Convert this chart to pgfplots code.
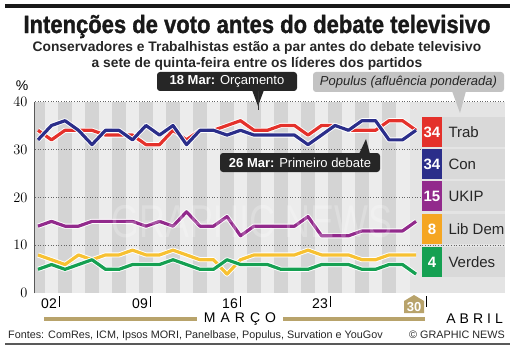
\documentclass[border=0pt]{standalone}
\usepackage{fontspec}
\setmainfont{Liberation Sans}
\newfontfamily\titlefont[FakeStretch=0.88,FakeBold=1.2]{Liberation Sans Bold}
\usepackage{graphicx}
\usepackage{pgfplots}
\usepackage{pgfplotstable}
\pgfplotsset{compat=1.18}
\definecolor{trab}{HTML}{E4312B}
\definecolor{con}{HTML}{2B2E8A}
\definecolor{ukip}{HTML}{922A8C}
\definecolor{ld}{HTML}{F7C132}
\definecolor{ldbox}{HTML}{F5A623}
\definecolor{verd}{HTML}{15A052}
\definecolor{tanc}{HTML}{B8A36B}
\definecolor{stripeA}{HTML}{D4D4D4}
\definecolor{stripeB}{HTML}{ECECEC}
\definecolor{bgR}{HTML}{E4E4E4}
\definecolor{cell}{HTML}{D9D9D9}
\definecolor{boxdark}{HTML}{262626}

\pgfplotstableread{
d trab con ukip ld verd
0 34 32 14 8 5
1 32 35 15 7 6
2 34 36 14 6 5
3 34 34 14 8 6
4 34 31 15 7 7
5 33 34 15 8 5
6 33 34 15 8 5
7 33 32 15 9 6
8 31 35 14 8 6
9 31 33 15 8 6
10 34 35 14 9 7
11 32 31 17 8 6
12 34 34 14 7 5
13 34 34 14 7 5
14 35 33 16 4 7
15 36 34 12 7 6
16 34 33 14 8 6
17 34 33 14 8 6
18 35 33 14 8 5
19 35 33 14 8 5
20 33 31 16 9 5
21 35 33 12 8 6
22 35 35 12 8 6
23 34 34 12 8 6
24 34 36 13 7 5
25 34 36 13 7 5
26 36 32 13 8 6
27 36 32 13 8 6
28 34 34 15 8 4
}\polls

\begin{document}
\begin{tikzpicture}[x=1pt,y=1pt]
\path (0,0) rectangle (515,349);
% top rule
\fill[black!90] (5,341) rectangle (510,345);
% titles
\node[anchor=base, inner sep=0pt, font=\titlefont\fontsize{25}{25}\selectfont, text=black!90] at (257,316) {Intenções de voto antes do debate televisivo};
\node[anchor=base, inner sep=0pt, font=\bfseries\fontsize{13.8}{14}\selectfont, text=black!85] at (257,297) {Conservadores e Trabalhistas estão a par antes do debate televisivo};
\node[anchor=base, inner sep=0pt, font=\bfseries\fontsize{13.8}{14}\selectfont, text=black!85] at (257,281) {a sete de quinta-feira entre os líderes dos partidos};
% percent
\node[font=\fontsize{14}{14}\selectfont] at (22,263) {\%};

\begin{axis}[
  at={(35pt,55.7pt)}, anchor=south west, scale only axis,
  width=470pt, height=191.8pt,
  xmin=-0.222, xmax=34.59, ymin=0, ymax=40,
  axis line style={draw=none},
  clip=false,
  xtick=\empty,
  ytick={0,10,20,30,40},
  major tick length=0pt,
  yticklabel style={font=\fontsize{15}{15}\selectfont, xshift=-4pt},
]
% background and stripes
\fill[stripeB] (axis cs:-0.222,0) rectangle (axis cs:27.56,40);
\fill[bgR] (axis cs:27.56,0) rectangle (axis cs:34.59,40);
\fill[stripeA] (axis cs:-0.222,0) rectangle (axis cs:0.5,40);
\pgfplotsinvokeforeach{2,4,...,26}{
  \fill[stripeA] (axis cs:#1-0.5,0) rectangle (axis cs:#1+0.5,40);
}
% grid
\pgfplotsinvokeforeach{10,20,30,40}{
  \draw[black!60, dotted, line width=0.6pt] (axis cs:-0.222,#1) -- (axis cs:34.59,#1);
}
\draw[black!65, line width=1pt] (axis cs:-0.222,0) -- (axis cs:-0.222,40);
% series
\addplot[white, line width=5pt, line join=round] table[x=d,y=ukip]{\polls};
\addplot[ukip, line width=3.2pt, line join=round] table[x=d,y=ukip]{\polls};
\addplot[white, line width=5pt, line join=round] table[x=d,y=ld]{\polls};
\addplot[ld, line width=3.2pt, line join=round] table[x=d,y=ld]{\polls};
\addplot[white, line width=5pt, line join=round] table[x=d,y=verd]{\polls};
\addplot[verd, line width=3.2pt, line join=round] table[x=d,y=verd]{\polls};
\addplot[white, line width=5pt, line join=round] table[x=d,y=trab]{\polls};
\addplot[trab, line width=3.2pt, line join=round] table[x=d,y=trab]{\polls};
\addplot[white, line width=5pt, line join=round] table[x=d,y=con]{\polls};
\addplot[con, line width=3.2pt, line join=round] table[x=d,y=con]{\polls};
\end{axis}

% watermark
\node[text=white, opacity=0.22, font=\fontsize{46}{46}\selectfont] at (252,127) {\scalebox{0.78}[1]{GRAPHIC NEWS}};

% x ticks and labels
\foreach \xx/\lab in {59/02,150/09,240/16,330/23}{
  \draw[black, line width=0.8pt] (\xx,53) -- (\xx,42);
  \node[anchor=east, inner sep=0pt, font=\fontsize{14}{14}\selectfont] at (\xx-2,45.5) {\lab};
}
\draw[black, line width=0.8pt] (426,53) -- (426,42);
\fill[tanc] (404,36) -- (424,36) -- (424,48) -- (414,54) -- (404,48) -- cycle;
\node[text=white, font=\bfseries\fontsize{13}{13}\selectfont, inner sep=0pt] at (414,42) {30};

% month bar
\draw[tanc, line width=4.5pt] (44,30) -- (197,30);
\draw[tanc, line width=4.5pt] (283,30) -- (425,30);
\node[font=\fontsize{14}{14}\selectfont, inner sep=0pt] at (240,30) {M\hspace{5pt}A\hspace{5pt}R\hspace{5pt}Ç\hspace{5pt}O};
\node[anchor=east, font=\fontsize{14}{14}\selectfont, inner sep=0pt] at (503,30) {A\hspace{4pt}B\hspace{4pt}R\hspace{4pt}I\hspace{4pt}L};
% sources
\node[anchor=base west, inner sep=0pt, font=\fontsize{10.8}{11}\selectfont, text=black!85] at (8,11) {Fontes: ComRes, ICM, Ipsos MORI, Panelbase, Populus, Survation e YouGov};
\node[anchor=base east, inner sep=0pt, font=\fontsize{10.8}{11}\selectfont, text=black!85] at (505,11) {© GRAPHIC NEWS};
\draw[black!65, line width=1.2pt] (5,5) -- (510,5);

% legend
\foreach \yb/\col/\num/\lab in {202/trab/34/Trab,170/con/34/Con,138/ukip/15/UKIP,105/ldbox/8/Lib Dem,72/verd/4/Verdes}{
  \fill[\col] (422,\yb) rectangle (442,\yb+30);
  \fill[cell] (442,\yb) rectangle (505,\yb+30);
  \node[text=white, font=\bfseries\fontsize{15}{15}\selectfont] at (432,\yb+15) {\num};
  \node[anchor=west, text=black!85, font=\fontsize{15}{15}\selectfont] at (445,\yb+15) {\lab};
}

% annotation 18 Mar
\fill[boxdark] (252,259) -- (264,259) -- (258,243) -- cycle;
\draw[black!80, line width=0.6pt] (258,259) -- (258,239);
\fill[boxdark, rounded corners=3pt] (157,258) rectangle (297,277);
\node[text=white, font=\fontsize{13}{13}\selectfont] at (227,267.5) {\textbf{18 Mar:} Orçamento};
% annotation 26 Mar
\fill[boxdark] (359,195) -- (370,195) -- (366,210) -- cycle;
\fill[boxdark, rounded corners=3pt] (220,177) rectangle (380,196);
\node[text=white, font=\fontsize{13}{13}\selectfont] at (300,186.5) {\textbf{26 Mar:} Primeiro debate};
% Populus
\fill[cell!90!black] (452,258) -- (466,258) -- (460,236) -- cycle;
\fill[cell!90!black, rounded corners=3pt] (313,257) rectangle (504,277);
\node[text=black!85, font=\itshape\fontsize{13}{13}\selectfont] at (408.5,267) {Populus (afluência ponderada)};
\end{tikzpicture}
\end{document}
